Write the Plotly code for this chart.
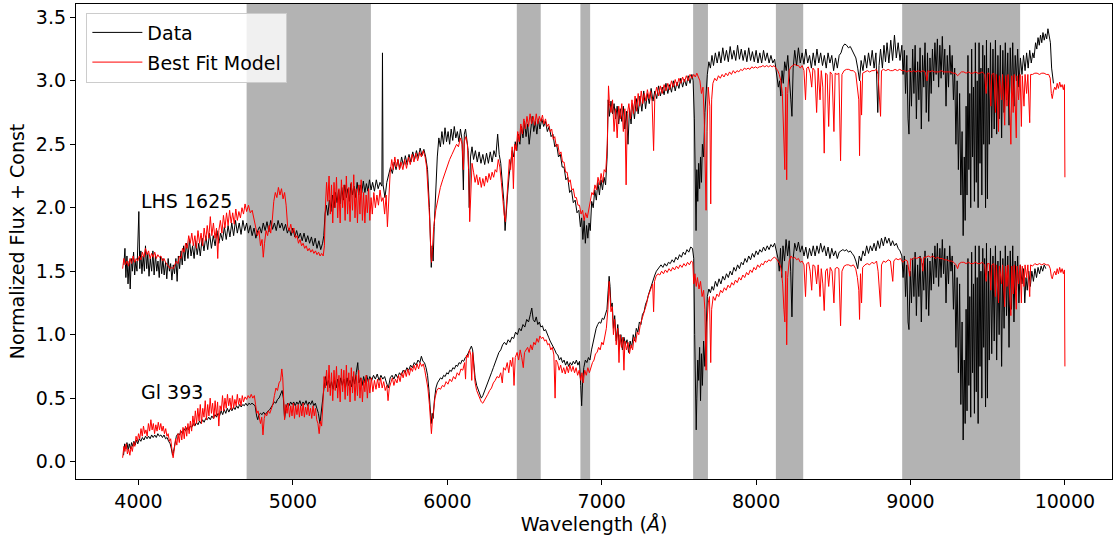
import plotly.graph_objects as go

# ---------------- data ----------------
bands = [(4700, 5505), (6450, 6605), (6862, 6925), (7592, 7688), (8128, 8305), (8946, 9710)]

lhs_data = [(3905,1.55),(3912,1.68),(3918,1.45),(3925,1.62),(3932,1.40),(3940,1.58),(3946,1.36),(3953,1.60),(3960,1.50),(3968,1.65),
(3975,1.47),(3982,1.58),(3990,1.50),(3997,1.72),(4002,1.97),(4008,1.52),(4015,1.66),(4022,1.48),(4030,1.62),(4038,1.50),
(4045,1.70),(4053,1.52),(4060,1.64),(4068,1.46),(4076,1.60),(4085,1.50),(4093,1.66),(4101,1.47),(4110,1.63),(4118,1.50),
(4126,1.58),(4134,1.45),(4142,1.62),(4150,1.48),(4158,1.60),(4166,1.47),(4175,1.57),(4183,1.44),(4192,1.60),(4200,1.50),
(4208,1.56),(4216,1.43),(4225,1.55),(4233,1.48),(4242,1.60),(4250,1.42),(4258,1.62),(4266,1.52),(4275,1.66),(4283,1.55),
(4292,1.70),(4300,1.58),(4310,1.72),(4320,1.60),(4330,1.75),(4340,1.62),(4350,1.70),(4360,1.60),(4370,1.74),(4380,1.63),
(4390,1.72),(4400,1.62),(4412,1.76),(4424,1.66),(4436,1.78),(4448,1.67),(4460,1.80),(4472,1.68),(4484,1.78),(4496,1.70),
(4508,1.82),(4520,1.72),(4532,1.80),(4544,1.74),(4556,1.85),(4568,1.75),(4580,1.86),(4592,1.77),(4604,1.88),(4616,1.78),
(4628,1.90),(4640,1.80),(4652,1.88),(4664,1.79),(4676,1.90),(4688,1.82),(4700,1.88),(4712,1.80),(4724,1.86),(4736,1.78),
(4748,1.84),(4760,1.76),(4772,1.82),(4784,1.85),(4796,1.80),(4808,1.88),(4820,1.82),(4832,1.89),(4844,1.81),(4856,1.90),
(4868,1.83),(4880,1.88),(4892,1.82),(4904,1.90),(4916,1.84),(4928,1.88),(4940,1.82),(4952,1.87),(4964,1.80),(4976,1.84),
(4988,1.78),(5000,1.84),(5012,1.77),(5024,1.82),(5036,1.76),(5048,1.80),(5060,1.74),(5072,1.80),(5084,1.73),(5096,1.78),
(5108,1.72),(5120,1.77),(5132,1.70),(5144,1.76),(5156,1.68),(5168,1.74),(5180,1.67),(5192,1.72),(5200,1.78),(5208,1.95),
(5216,2.02),(5226,1.94),(5236,2.06),(5246,1.97),(5256,2.10),(5266,2.00),(5276,2.12),(5286,2.04),(5296,2.14),(5306,2.03),
(5316,2.16),(5326,2.06),(5336,2.18),(5346,2.08),(5356,2.15),(5366,2.05),(5376,2.19),(5386,2.10),(5396,2.17),(5406,2.08),
(5416,2.20),(5426,2.10),(5436,2.18),(5446,2.12),(5456,2.21),(5466,2.12),(5476,2.19),(5486,2.13),(5496,2.22),(5506,2.14),
(5516,2.20),(5528,2.13),(5540,2.22),(5552,2.15),(5564,2.20),(5576,2.17),(5580,3.22),(5584,2.18),(5596,2.08),(5608,2.20),
(5620,2.26),(5632,2.32),(5644,2.27),(5656,2.36),(5668,2.30),(5680,2.38),(5692,2.31),(5704,2.40),(5716,2.33),(5728,2.41),
(5740,2.34),(5752,2.42),(5764,2.36),(5776,2.44),(5788,2.38),(5800,2.45),(5812,2.39),(5824,2.47),(5836,2.41),(5848,2.46),
(5860,2.40),(5872,2.30),(5884,2.00),(5892,1.60),(5896,1.53),(5902,1.70),(5908,1.58),(5915,1.85),(5925,2.20),(5935,2.40),
(5945,2.55),(5955,2.48),(5965,2.60),(5975,2.50),(5985,2.63),(5995,2.52),(6005,2.60),(6015,2.50),(6025,2.62),(6035,2.53),
(6045,2.64),(6055,2.55),(6065,2.60),(6075,2.52),(6085,2.62),(6095,2.54),(6104,2.14),(6110,2.58),(6118,2.62),(6125,2.55),
(6135,2.45),(6142,2.00),(6150,2.40),(6160,2.48),(6170,2.38),(6182,2.45),(6194,2.36),(6206,2.44),(6218,2.35),(6230,2.42),
(6242,2.34),(6254,2.43),(6266,2.35),(6278,2.44),(6290,2.36),(6302,2.45),(6314,2.40),(6326,2.58),(6336,2.42),(6346,2.35),
(6356,2.22),(6366,2.05),(6374,1.82),(6380,1.90),(6390,2.10),(6400,2.25),(6410,2.35),(6420,2.45),(6430,2.40),(6440,2.52),
(6450,2.45),(6460,2.58),(6470,2.50),(6480,2.64),(6490,2.55),(6500,2.68),(6510,2.56),(6520,2.66),(6530,2.50),(6540,2.62),
(6550,2.72),(6560,2.60),(6570,2.68),(6580,2.58),(6590,2.70),(6600,2.62),(6612,2.70),(6624,2.64),(6636,2.68),(6648,2.60),
(6660,2.64),(6672,2.56),(6684,2.58),(6696,2.48),(6708,2.50),(6720,2.40),(6732,2.42),(6744,2.32),(6756,2.32),(6768,2.22),
(6780,2.24),(6792,2.12),(6804,2.14),(6816,2.04),(6828,2.06),(6840,1.96),(6852,1.98),(6862,1.85),(6870,1.92),(6878,1.75),
(6886,1.90),(6894,1.72),(6902,1.86),(6910,1.76),(6918,1.88),(6926,1.82),(6935,2.05),(6945,2.00),(6955,2.14),(6965,2.06),
(6975,2.20),(6985,2.10),(6995,2.22),(7005,2.14),(7015,2.24),(7025,2.18),(7035,2.40),(7042,2.85),(7050,2.72),(7060,2.84),
(7070,2.74),(7080,2.82),(7090,2.70),(7100,2.80),(7110,2.66),(7120,2.78),(7130,2.68),(7140,2.80),(7150,2.62),(7160,2.76),
(7170,2.50),(7180,2.78),(7190,2.66),(7200,2.82),(7212,2.70),(7224,2.86),(7236,2.74),(7248,2.88),(7260,2.76),(7272,2.92),
(7284,2.78),(7296,2.90),(7308,2.82),(7320,2.94),(7332,2.84),(7344,2.92),(7356,2.86),(7368,2.96),(7380,2.88),(7392,2.95),
(7404,2.89),(7416,2.98),(7428,2.90),(7440,2.97),(7452,2.91),(7464,3.00),(7476,2.92),(7488,2.99),(7500,2.94),(7512,3.02),
(7524,2.95),(7536,3.01),(7548,2.96),(7560,3.04),(7572,2.98),(7584,3.05),(7592,3.00),(7600,2.70),(7606,2.10),(7611,1.82),
(7616,2.30),(7622,2.05),(7628,2.35),(7634,2.15),(7640,2.40),(7646,2.20),(7652,2.50),(7660,2.40),(7668,2.75),(7676,2.95),
(7684,3.05),(7694,3.15),(7704,3.10),(7714,3.20),(7724,3.12),(7736,3.22),(7748,3.14),(7760,3.23),(7772,3.14),(7784,3.26),
(7796,3.16),(7808,3.24),(7820,3.15),(7832,3.27),(7844,3.17),(7856,3.24),(7868,3.16),(7880,3.28),(7892,3.17),(7904,3.25),
(7916,3.16),(7928,3.24),(7940,3.15),(7952,3.26),(7964,3.16),(7976,3.23),(7988,3.15),(8000,3.24),(8012,3.14),(8024,3.22),
(8036,3.14),(8048,3.24),(8060,3.16),(8072,3.22),(8084,3.14),(8096,3.20),(8108,3.14),(8120,3.17),(8132,3.05),(8144,2.95),
(8152,3.00),(8160,2.88),(8168,3.08),(8176,2.98),(8185,3.15),(8195,3.08),(8205,3.20),(8215,3.05),(8225,2.85),(8232,2.72),
(8240,3.10),(8250,3.24),(8262,3.12),(8274,3.26),(8286,3.14),(8298,3.22),(8310,3.13),(8322,3.25),(8334,3.14),(8346,3.20),
(8358,3.10),(8370,3.22),(8382,3.12),(8394,3.25),(8406,3.14),(8418,3.22),(8430,3.12),(8442,3.20),(8454,3.10),(8466,3.22),
(8478,3.14),(8490,3.20),(8502,3.08),(8514,3.18),(8526,3.10),(8538,3.20),(8550,3.22),(8562,3.27),(8574,3.29),(8586,3.28),
(8598,3.26),(8610,3.27),(8622,3.24),(8634,3.22),(8646,3.18),(8658,3.10),(8670,3.00),(8680,3.16),(8692,3.08),(8704,3.20),
(8716,3.10),(8728,3.22),(8740,3.12),(8752,3.24),(8764,3.10),(8776,3.22),(8788,2.75),(8796,3.12),(8806,3.25),(8818,3.10),
(8828,3.28),(8838,3.15),(8848,3.30),(8860,3.14),(8872,3.32),(8884,3.16),(8896,3.36),(8908,3.18),(8920,3.30),(8932,3.16),
(8944,3.28),(8952,3.05),(8960,3.24),(8968,2.90),(8976,3.20),(8984,2.70),(8990,2.58),(8998,3.10),(9006,2.80),(9014,3.25),
(9022,2.90),(9030,3.28),(9038,2.70),(9046,3.15),(9054,2.85),(9062,3.26),(9070,2.62),(9078,3.20),(9086,2.95),(9094,3.30),
(9102,2.75),(9110,3.22),(9118,2.68),(9126,3.18),(9134,2.90),(9142,3.25),(9150,3.00),(9158,3.30),(9166,3.05),(9174,3.33),
(9182,2.95),(9190,3.28),(9198,3.02),(9206,3.35),(9214,3.05),(9222,3.25),(9230,2.80),(9238,3.20),(9246,2.95),(9254,3.28),
(9262,3.05),(9270,3.20),(9278,2.85),(9286,3.10),(9294,2.50),(9302,3.00),(9310,2.30),(9318,2.90),(9326,2.10),(9334,2.60),
(9341,1.78),(9348,2.40),(9354,1.90),(9360,2.80),(9366,2.10),(9372,3.20),(9378,2.30),(9384,2.90),(9390,2.00),(9396,3.25),
(9402,2.40),(9408,2.95),(9414,2.05),(9420,3.30),(9426,2.20),(9432,3.00),(9438,2.00),(9444,3.30),(9450,2.35),(9456,3.10),
(9462,2.10),(9468,3.28),(9474,2.50),(9480,3.20),(9486,2.00),(9492,3.32),(9498,2.07),(9504,3.10),(9510,2.50),(9518,3.30),
(9526,2.55),(9534,3.25),(9542,2.62),(9550,3.32),(9558,2.58),(9566,3.20),(9574,2.70),(9582,3.28),(9590,2.55),(9598,3.24),
(9606,2.75),(9614,3.30),(9622,2.85),(9630,3.22),(9638,2.65),(9646,3.26),(9654,2.90),(9662,3.30),(9670,2.80),(9678,3.20),
(9686,3.00),(9694,3.25),(9702,2.95),(9712,3.18),(9722,3.05),(9732,3.20),(9742,3.08),(9752,3.22),(9762,3.10),(9772,3.24),
(9782,3.14),(9792,3.22),(9800,3.18),(9810,3.30),(9818,3.25),(9826,3.34),(9834,3.28),(9842,3.36),(9850,3.30),(9858,3.38),
(9866,3.32),(9874,3.37),(9882,3.33),(9890,3.41),(9898,3.34),(9906,3.30),(9914,3.10),(9920,3.05),(9926,2.98)]

lhs_model = [(3897,1.52),(3905,1.60),(3915,1.55),(3925,1.58),(3935,1.54),(3945,1.60),(3955,1.56),(3965,1.62),(3975,1.57),(3985,1.60),
(3995,1.58),(4005,1.62),(4015,1.59),(4025,1.65),(4035,1.61),(4045,1.68),(4055,1.63),(4065,1.66),(4075,1.60),(4085,1.64),
(4095,1.61),(4105,1.65),(4115,1.60),(4125,1.63),(4135,1.61),(4145,1.62),(4155,1.58),(4165,1.60),(4175,1.57),(4185,1.55),
(4195,1.53),(4205,1.52),(4215,1.53),(4225,1.52),(4235,1.55),(4245,1.58),(4255,1.56),(4265,1.62),(4275,1.60),(4285,1.68),
(4295,1.65),(4305,1.72),(4315,1.68),(4325,1.78),(4335,1.72),(4345,1.80),(4355,1.70),(4365,1.78),(4375,1.68),(4385,1.82),
(4395,1.72),(4405,1.80),(4415,1.70),(4425,1.84),(4435,1.74),(4445,1.86),(4455,1.76),(4465,1.93),(4475,1.78),(4485,1.88),
(4495,1.76),(4505,1.84),(4513,1.60),(4520,1.82),(4530,1.90),(4540,1.80),(4550,1.94),(4560,1.84),(4570,1.96),(4580,1.86),
(4590,1.98),(4600,1.88),(4610,1.96),(4620,1.87),(4630,1.99),(4640,1.90),(4650,1.97),(4660,1.92),(4670,2.00),(4680,1.95),
(4690,2.03),(4700,1.97),(4712,2.02),(4724,1.96),(4736,1.98),(4748,1.90),(4760,1.85),(4770,1.78),(4780,1.82),(4790,1.70),
(4800,1.75),(4808,1.61),(4816,1.72),(4826,1.82),(4836,1.78),(4846,1.86),(4856,1.80),(4866,1.90),(4876,2.05),(4886,2.12),
(4896,2.08),(4906,2.16),(4916,2.10),(4926,2.15),(4936,2.07),(4946,2.12),(4956,2.02),(4966,1.85),(4976,1.82),(4986,1.87),
(4996,1.80),(5006,1.84),(5016,1.76),(5026,1.78),(5036,1.72),(5046,1.75),(5056,1.70),(5066,1.72),(5076,1.68),(5086,1.70),
(5096,1.66),(5106,1.68),(5116,1.65),(5126,1.67),(5136,1.64),(5146,1.66),(5156,1.63),(5166,1.65),(5176,1.62),(5186,1.64),
(5196,1.62),(5204,1.70),(5210,2.00),(5218,2.20),(5226,2.05),(5234,2.25),(5242,1.95),(5250,2.18),(5258,1.88),(5266,2.20),
(5274,2.00),(5282,2.24),(5290,1.92),(5298,2.15),(5306,1.88),(5314,2.22),(5322,2.00),(5330,2.18),(5338,1.90),(5346,2.25),
(5354,1.95),(5362,2.16),(5370,1.89),(5378,2.20),(5386,1.98),(5394,2.26),(5402,1.92),(5410,2.15),(5418,1.88),(5426,2.18),
(5434,1.95),(5442,2.22),(5450,1.90),(5458,2.12),(5466,1.88),(5474,2.10),(5482,1.96),(5490,2.15),(5498,1.90),(5506,2.08),
(5514,1.95),(5524,2.12),(5534,2.00),(5544,2.10),(5554,2.02),(5564,2.14),(5574,2.05),(5584,2.08),(5594,1.95),(5604,2.10),
(5612,1.85),(5620,2.05),(5630,2.28),(5640,2.38),(5650,2.30),(5660,2.40),(5670,2.32),(5680,2.38),(5690,2.30),(5700,2.36),
(5712,2.30),(5724,2.38),(5736,2.31),(5748,2.40),(5760,2.34),(5772,2.42),(5784,2.36),(5796,2.43),(5808,2.37),(5820,2.44),
(5832,2.40),(5844,2.45),(5856,2.40),(5866,2.32),(5876,2.15),(5886,1.90),(5894,1.62),(5898,1.57),(5904,1.68),(5912,1.85),
(5925,1.98),(5940,2.08),(5955,2.16),(5970,2.22),(5985,2.28),(6000,2.32),(6015,2.38),(6030,2.42),(6045,2.46),(6060,2.50),
(6072,2.48),(6084,2.55),(6096,2.50),(6104,2.30),(6110,2.52),(6120,2.56),(6130,2.50),(6138,2.30),(6145,1.89),(6152,2.20),
(6160,2.35),(6170,2.28),(6180,2.20),(6190,2.26),(6200,2.18),(6210,2.24),(6220,2.16),(6230,2.23),(6240,2.17),(6250,2.25),
(6260,2.20),(6270,2.27),(6280,2.22),(6290,2.28),(6300,2.24),(6310,2.30),(6320,2.28),(6330,2.38),(6340,2.32),(6350,2.20),
(6360,2.05),(6368,1.95),(6376,1.89),(6384,2.05),(6392,2.25),(6402,2.38),(6410,2.30),(6420,2.48),(6428,2.15),(6436,2.50),
(6446,2.45),(6456,2.60),(6466,2.52),(6476,2.66),(6486,2.58),(6496,2.70),(6506,2.62),(6516,2.72),(6526,2.64),(6536,2.74),
(6546,2.66),(6556,2.72),(6566,2.65),(6576,2.74),(6586,2.66),(6596,2.72),(6606,2.68),(6616,2.73),(6626,2.66),(6636,2.70),
(6646,2.64),(6656,2.66),(6666,2.60),(6676,2.62),(6686,2.54),(6696,2.56),(6706,2.48),(6716,2.50),(6726,2.42),(6736,2.44),
(6746,2.36),(6756,2.36),(6766,2.28),(6776,2.28),(6786,2.20),(6796,2.22),(6806,2.14),(6816,2.15),(6826,2.08),(6836,2.08),
(6846,2.02),(6856,2.02),(6866,1.95),(6876,1.98),(6886,1.90),(6896,1.96),(6906,1.92),(6916,2.00),(6926,2.05),(6936,2.12),
(6946,2.10),(6956,2.18),(6966,2.14),(6976,2.24),(6986,2.18),(6996,2.27),(7006,2.20),(7016,2.30),(7026,2.28),(7036,2.50),
(7044,2.96),(7050,2.82),(7060,2.75),(7070,2.85),(7080,2.60),(7090,2.78),(7100,2.55),(7110,2.80),(7120,2.70),(7130,2.82),
(7140,2.60),(7150,2.78),(7158,2.18),(7166,2.74),(7176,2.82),(7186,2.70),(7196,2.85),(7206,2.74),(7216,2.88),(7226,2.76),
(7236,2.90),(7246,2.80),(7256,2.92),(7266,2.82),(7276,2.90),(7286,2.84),(7296,2.93),(7306,2.86),(7316,2.92),(7326,2.84),
(7336,2.45),(7344,2.88),(7356,2.95),(7368,2.88),(7380,2.96),(7392,2.90),(7404,2.97),(7416,2.92),(7428,2.98),(7440,2.93),
(7452,3.00),(7464,2.95),(7476,3.01),(7488,2.96),(7500,3.02),(7512,2.98),(7524,3.03),(7536,2.99),(7548,3.04),(7560,3.00),
(7572,3.05),(7584,3.02),(7596,3.05),(7606,3.03),(7616,3.06),(7626,3.03),(7636,3.00),(7646,2.90),(7656,2.95),(7664,2.70),
(7670,2.40),(7676,1.98),(7682,2.60),(7690,2.95),(7700,2.80),(7706,2.03),(7712,2.85),(7720,2.98),(7732,3.02),(7744,3.00),
(7756,3.04),(7768,3.02),(7780,3.05),(7792,3.03),(7804,3.06),(7816,3.04),(7828,3.07),(7840,3.05),(7852,3.08),(7864,3.06),
(7876,3.08),(7888,3.07),(7900,3.09),(7912,3.08),(7924,3.10),(7936,3.09),(7948,3.10),(7960,3.09),(7972,3.11),(7984,3.10),
(7996,3.11),(8008,3.10),(8020,3.11),(8032,3.11),(8044,3.12),(8056,3.11),(8068,3.12),(8080,3.11),(8092,3.12),(8104,3.11),
(8116,3.12),(8128,3.10),(8140,3.08),(8150,3.05),(8160,3.00),(8170,2.90),(8180,2.40),(8186,2.30),(8192,2.95),(8198,2.22),
(8204,2.90),(8214,3.08),(8226,3.11),(8238,3.12),(8250,3.13),(8262,3.12),(8274,3.12),(8286,3.10),(8298,3.12),(8310,3.08),
(8320,2.85),(8328,3.10),(8338,3.11),(8350,3.06),(8360,2.95),(8368,3.10),(8380,3.08),(8392,2.75),(8402,3.10),(8414,2.85),
(8422,3.08),(8432,2.95),(8441,2.43),(8450,3.06),(8460,3.05),(8470,2.64),(8480,3.07),(8492,3.05),(8504,2.60),(8512,3.06),
(8524,3.05),(8536,3.06),(8547,2.37),(8556,3.05),(8570,3.08),(8585,3.09),(8600,3.09),(8615,3.08),(8630,3.08),(8645,3.06),
(8656,2.95),(8665,2.85),(8670,2.41),(8676,3.00),(8683,2.73),(8690,3.06),(8705,3.07),(8720,3.08),(8735,3.07),(8750,3.08),
(8765,3.08),(8780,3.09),(8790,3.05),(8800,2.80),(8806,2.72),(8812,3.08),(8825,3.09),(8840,3.08),(8855,3.09),(8870,3.08),
(8885,3.08),(8900,3.09),(8915,3.08),(8930,3.09),(8945,3.08),(8960,3.08),(8975,3.07),(8990,3.08),(9005,3.07),(9020,3.08),
(9035,3.07),(9050,3.08),(9065,3.07),(9080,3.08),(9095,3.07),(9107,3.00),(9113,3.08),(9125,3.07),(9140,3.08),(9155,3.07),
(9170,3.07),(9185,3.07),(9200,3.08),(9215,3.07),(9230,3.07),(9245,3.07),(9260,3.07),(9275,3.06),(9290,3.06),(9305,3.04),
(9315,3.05),(9330,3.07),(9345,3.07),(9360,3.06),(9375,3.07),(9390,3.06),(9405,3.06),(9420,3.07),(9435,3.06),(9450,3.06),
(9465,3.07),(9480,3.05),(9490,2.90),(9498,3.06),(9510,3.06),(9520,2.80),(9526,3.05),(9540,3.06),(9550,2.75),(9556,3.05),
(9570,2.60),(9576,3.04),(9590,2.85),(9596,3.05),(9610,2.65),(9616,3.04),(9625,2.80),(9632,3.05),(9645,2.70),(9650,2.50),
(9656,3.04),(9665,2.75),(9672,3.05),(9685,2.55),(9690,3.04),(9700,2.85),(9710,3.05),(9718,2.64),(9724,3.04),(9735,2.80),
(9742,3.05),(9752,2.90),(9760,3.05),(9772,2.67),(9778,3.05),(9790,3.05),(9805,3.06),(9820,3.06),(9835,3.05),(9850,3.06),
(9865,3.06),(9880,3.05),(9895,3.05),(9905,3.02),(9912,2.90),(9918,2.86),(9926,2.92),(9934,2.95),(9942,2.93),(9950,2.98),
(9958,2.94),(9966,2.99),(9974,2.95),(9982,2.97),(9990,2.93),(9997,2.97),(10000,2.24)]

gl_data = [(3903,0.05),(3910,0.14),(3918,0.10),(3925,0.15),(3933,0.09),(3940,0.14),(3948,0.10),(3955,0.15),(3963,0.12),(3970,0.16),
(3978,0.13),(3986,0.17),(3995,0.14),(4005,0.18),(4015,0.16),(4025,0.19),(4035,0.17),(4045,0.20),(4055,0.18),(4065,0.20),
(4075,0.18),(4085,0.21),(4095,0.19),(4105,0.21),(4115,0.19),(4125,0.22),(4135,0.20),(4145,0.21),(4155,0.19),(4165,0.21),
(4175,0.18),(4185,0.19),(4195,0.16),(4205,0.14),(4213,0.10),(4220,0.05),(4227,0.08),(4235,0.15),(4245,0.20),(4255,0.22),
(4265,0.21),(4275,0.24),(4285,0.22),(4295,0.26),(4305,0.24),(4315,0.27),(4325,0.25),(4335,0.28),(4345,0.27),(4355,0.30),
(4365,0.28),(4375,0.31),(4385,0.29),(4395,0.32),(4405,0.30),(4415,0.33),(4425,0.31),(4435,0.34),(4445,0.33),(4455,0.35),
(4465,0.33),(4475,0.36),(4485,0.34),(4495,0.37),(4505,0.35),(4515,0.38),(4525,0.36),(4535,0.40),(4545,0.37),(4555,0.41),
(4565,0.38),(4575,0.42),(4585,0.39),(4595,0.42),(4605,0.40),(4615,0.43),(4625,0.41),(4635,0.44),(4645,0.42),(4655,0.45),
(4665,0.43),(4675,0.45),(4685,0.44),(4695,0.46),(4705,0.44),(4715,0.46),(4725,0.45),(4735,0.46),(4745,0.45),(4755,0.44),
(4765,0.36),(4772,0.33),(4780,0.37),(4790,0.38),(4800,0.37),(4810,0.39),(4820,0.37),(4830,0.39),(4840,0.40),(4850,0.41),
(4860,0.43),(4870,0.45),(4880,0.47),(4890,0.46),(4900,0.49),(4910,0.50),(4920,0.53),(4930,0.56),(4938,0.50),(4946,0.34),
(4955,0.42),(4965,0.46),(4975,0.44),(4985,0.47),(4995,0.45),(5005,0.47),(5015,0.44),(5025,0.47),(5035,0.45),(5045,0.48),
(5055,0.44),(5065,0.47),(5075,0.45),(5085,0.48),(5095,0.44),(5105,0.47),(5115,0.45),(5125,0.48),(5135,0.44),(5145,0.46),
(5155,0.42),(5165,0.38),(5175,0.30),(5185,0.42),(5195,0.55),(5205,0.62),(5212,0.67),(5220,0.60),(5230,0.64),(5240,0.58),
(5250,0.63),(5260,0.57),(5270,0.64),(5280,0.58),(5290,0.65),(5300,0.59),(5310,0.66),(5320,0.60),(5330,0.65),(5340,0.58),
(5350,0.66),(5360,0.60),(5370,0.64),(5380,0.59),(5390,0.67),(5400,0.61),(5410,0.70),(5420,0.78),(5428,0.62),(5438,0.66),
(5448,0.60),(5458,0.67),(5468,0.62),(5478,0.68),(5488,0.63),(5498,0.67),(5510,0.64),(5522,0.68),(5534,0.65),(5546,0.69),
(5558,0.64),(5570,0.68),(5582,0.65),(5594,0.67),(5606,0.62),(5618,0.58),(5630,0.66),(5642,0.68),(5654,0.65),(5666,0.69),
(5678,0.66),(5690,0.70),(5702,0.68),(5714,0.72),(5726,0.70),(5738,0.74),(5750,0.72),(5762,0.76),(5774,0.74),(5786,0.78),
(5798,0.76),(5810,0.80),(5822,0.78),(5832,0.83),(5842,0.79),(5852,0.78),(5862,0.74),(5872,0.68),(5882,0.55),(5890,0.40),
(5896,0.30),(5902,0.38),(5908,0.34),(5916,0.48),(5926,0.58),(5936,0.62),(5946,0.64),(5956,0.66),(5966,0.65),(5976,0.68),
(5986,0.67),(5996,0.70),(6006,0.69),(6016,0.72),(6026,0.71),(6036,0.74),(6046,0.73),(6056,0.76),(6066,0.75),(6076,0.78),
(6086,0.77),(6096,0.80),(6106,0.79),(6116,0.82),(6126,0.83),(6136,0.86),(6146,0.88),(6156,0.91),(6164,0.88),(6172,0.76),
(6180,0.66),(6190,0.60),(6200,0.57),(6210,0.53),(6220,0.50),(6230,0.52),(6240,0.55),(6250,0.58),(6262,0.62),(6274,0.66),
(6286,0.70),(6298,0.74),(6310,0.78),(6322,0.82),(6334,0.86),(6346,0.88),(6358,0.92),(6370,0.94),(6382,0.92),(6394,0.96),
(6406,0.94),(6418,0.98),(6430,0.97),(6442,1.02),(6454,1.00),(6466,1.05),(6478,1.03),(6490,1.08),(6502,1.06),(6514,1.12),
(6526,1.10),(6538,1.16),(6547,1.21),(6556,1.12),(6566,1.10),(6576,1.14),(6586,1.08),(6596,1.10),(6606,1.06),(6616,1.07),
(6626,1.03),(6636,1.04),(6646,1.00),(6656,0.98),(6666,0.95),(6676,0.93),(6686,0.90),(6696,0.88),(6706,0.85),(6716,0.84),
(6726,0.80),(6736,0.82),(6746,0.78),(6756,0.80),(6766,0.76),(6776,0.79),(6786,0.75),(6796,0.78),(6806,0.76),(6816,0.79),
(6826,0.77),(6836,0.80),(6846,0.76),(6856,0.79),(6864,0.60),(6870,0.44),(6876,0.62),(6884,0.74),(6894,0.80),(6904,0.78),
(6914,0.82),(6924,0.80),(6934,0.88),(6944,0.94),(6954,1.00),(6964,1.05),(6974,1.08),(6984,1.10),(6994,1.09),(7004,1.13),
(7014,1.12),(7024,1.16),(7034,1.20),(7042,1.35),(7048,1.46),(7054,1.38),(7060,1.22),(7068,1.25),(7076,1.05),(7084,1.15),
(7094,0.95),(7104,1.08),(7114,0.90),(7124,1.00),(7134,0.88),(7144,0.98),(7154,0.92),(7164,0.96),(7174,0.86),(7184,0.95),
(7194,0.90),(7204,1.00),(7214,0.95),(7224,1.05),(7234,1.02),(7244,1.10),(7254,1.08),(7264,1.16),(7274,1.18),(7284,1.24),
(7294,1.27),(7304,1.32),(7314,1.36),(7324,1.40),(7334,1.44),(7344,1.47),(7354,1.50),(7364,1.52),(7374,1.54),(7384,1.55),
(7396,1.53),(7408,1.56),(7420,1.54),(7432,1.57),(7444,1.56),(7456,1.59),(7468,1.57),(7480,1.61),(7492,1.59),(7504,1.63),
(7516,1.61),(7528,1.65),(7540,1.63),(7552,1.67),(7564,1.65),(7576,1.69),(7588,1.68),(7596,1.60),(7602,1.00),(7608,0.40),
(7612,0.25),(7616,0.50),(7622,0.80),(7628,0.64),(7634,0.90),(7640,0.48),(7646,0.85),(7652,0.60),(7660,0.95),(7668,0.75),
(7676,1.10),(7684,1.30),(7694,1.36),(7704,1.33),(7714,1.38),(7724,1.35),(7736,1.42),(7748,1.38),(7760,1.44),(7772,1.40),
(7784,1.46),(7796,1.43),(7808,1.48),(7820,1.45),(7832,1.50),(7844,1.47),(7856,1.53),(7868,1.50),(7880,1.55),(7892,1.52),
(7904,1.57),(7916,1.55),(7928,1.60),(7940,1.57),(7952,1.62),(7964,1.59),(7976,1.64),(7988,1.61),(8000,1.66),(8012,1.63),
(8024,1.67),(8036,1.65),(8048,1.69),(8060,1.66),(8072,1.70),(8084,1.67),(8096,1.71),(8108,1.69),(8120,1.72),(8132,1.66),
(8142,1.60),(8150,1.50),(8158,1.68),(8166,1.45),(8174,1.70),(8184,1.58),(8194,1.75),(8204,1.62),(8214,1.74),(8224,1.50),
(8232,1.14),(8240,1.60),(8250,1.72),(8262,1.66),(8274,1.73),(8286,1.65),(8298,1.70),(8310,1.62),(8322,1.69),(8334,1.60),
(8346,1.68),(8358,1.62),(8370,1.70),(8382,1.62),(8394,1.70),(8406,1.64),(8418,1.72),(8430,1.65),(8442,1.70),(8454,1.62),
(8466,1.69),(8478,1.60),(8490,1.68),(8502,1.62),(8514,1.66),(8526,1.60),(8538,1.65),(8550,1.66),(8562,1.67),(8574,1.66),
(8586,1.67),(8598,1.65),(8610,1.66),(8622,1.64),(8634,1.62),(8646,1.58),(8658,1.52),(8668,1.62),(8680,1.58),(8692,1.66),
(8704,1.62),(8716,1.70),(8728,1.64),(8740,1.70),(8752,1.66),(8764,1.72),(8776,1.66),(8788,1.74),(8800,1.68),(8812,1.76),
(8824,1.70),(8836,1.77),(8848,1.72),(8860,1.76),(8872,1.70),(8884,1.74),(8896,1.70),(8908,1.72),(8920,1.68),(8932,1.66),
(8944,1.62),(8952,1.45),(8960,1.62),(8968,1.30),(8976,1.55),(8984,1.10),(8990,1.04),(8998,1.50),(9006,1.25),(9014,1.60),
(9022,1.30),(9030,1.65),(9038,1.15),(9046,1.55),(9054,1.30),(9062,1.62),(9070,1.10),(9078,1.56),(9086,1.35),(9094,1.66),
(9102,1.20),(9110,1.60),(9118,1.15),(9126,1.58),(9134,1.35),(9142,1.64),(9150,1.40),(9158,1.70),(9166,1.45),(9174,1.72),
(9182,1.38),(9190,1.68),(9198,1.45),(9206,1.75),(9214,1.48),(9222,1.68),(9230,1.25),(9238,1.62),(9246,1.40),(9254,1.70),
(9262,1.50),(9270,1.62),(9278,1.20),(9286,1.55),(9294,0.90),(9302,1.45),(9310,0.70),(9318,1.40),(9326,0.45),(9334,1.10),
(9341,0.17),(9348,0.80),(9354,0.30),(9360,1.20),(9366,0.40),(9372,1.60),(9378,0.60),(9384,1.30),(9390,0.35),(9396,1.65),
(9402,0.70),(9408,1.40),(9414,0.38),(9420,1.70),(9426,0.55),(9432,1.45),(9438,0.30),(9444,1.70),(9450,0.75),(9456,1.50),
(9462,0.50),(9468,1.68),(9474,0.90),(9480,1.60),(9486,0.43),(9492,1.72),(9498,0.50),(9504,1.50),(9510,0.80),(9518,1.68),
(9526,0.85),(9534,1.62),(9542,0.95),(9550,1.70),(9558,0.80),(9566,1.58),(9574,1.00),(9582,1.66),(9590,0.75),(9598,1.60),
(9606,1.05),(9614,1.70),(9622,1.15),(9630,1.62),(9638,0.90),(9646,1.66),(9654,1.20),(9662,1.70),(9670,1.10),(9678,1.58),
(9686,1.35),(9694,1.62),(9702,1.25),(9712,1.55),(9722,1.40),(9732,1.52),(9740,1.25),(9748,1.45),(9756,1.35),(9766,1.50),
(9776,1.38),(9786,1.50),(9796,1.42),(9806,1.52),(9816,1.45),(9826,1.53),(9836,1.48),(9846,1.54),(9856,1.50),(9866,1.55),
(9876,1.52)]

gl_model = [(3897,0.03),(3905,0.12),(3912,0.08),(3920,0.14),(3928,0.06),(3936,0.10),(3944,0.05),(3952,0.12),(3960,0.08),(3968,0.15),
(3976,0.12),(3984,0.20),(3992,0.16),(4000,0.22),(4008,0.18),(4016,0.26),(4024,0.20),(4032,0.28),(4040,0.22),(4048,0.25),
(4056,0.20),(4064,0.30),(4072,0.24),(4080,0.33),(4088,0.25),(4096,0.30),(4104,0.22),(4112,0.29),(4120,0.24),(4128,0.31),
(4136,0.25),(4144,0.30),(4152,0.24),(4160,0.28),(4168,0.22),(4176,0.26),(4184,0.20),(4192,0.22),(4200,0.16),(4208,0.18),
(4216,0.10),(4224,0.03),(4232,0.10),(4240,0.18),(4248,0.13),(4256,0.22),(4264,0.15),(4272,0.25),(4280,0.17),(4288,0.27),
(4296,0.18),(4304,0.28),(4312,0.20),(4320,0.30),(4328,0.22),(4336,0.32),(4344,0.24),(4352,0.36),(4360,0.28),(4368,0.40),
(4376,0.30),(4384,0.42),(4392,0.32),(4400,0.45),(4408,0.30),(4416,0.42),(4424,0.35),(4432,0.48),(4440,0.33),(4448,0.45),
(4456,0.36),(4464,0.50),(4472,0.38),(4480,0.46),(4488,0.34),(4496,0.48),(4504,0.36),(4512,0.47),(4520,0.28),(4528,0.44),
(4536,0.40),(4544,0.52),(4552,0.40),(4560,0.50),(4568,0.42),(4576,0.53),(4584,0.44),(4592,0.50),(4600,0.41),(4608,0.52),
(4616,0.42),(4624,0.49),(4632,0.44),(4640,0.53),(4648,0.45),(4656,0.50),(4664,0.44),(4672,0.52),(4680,0.47),(4690,0.51),
(4700,0.49),(4710,0.52),(4720,0.50),(4730,0.53),(4740,0.50),(4750,0.52),(4758,0.45),(4766,0.38),(4774,0.40),(4782,0.36),
(4790,0.30),(4798,0.35),(4806,0.21),(4814,0.34),(4822,0.38),(4830,0.36),(4840,0.40),(4850,0.38),(4860,0.42),(4870,0.45),
(4880,0.52),(4890,0.58),(4900,0.56),(4910,0.62),(4920,0.64),(4928,0.73),(4934,0.66),(4940,0.50),(4946,0.33),(4954,0.45),
(4962,0.38),(4970,0.46),(4978,0.35),(4986,0.44),(4994,0.36),(5002,0.46),(5010,0.34),(5018,0.44),(5026,0.37),(5034,0.45),
(5042,0.35),(5050,0.44),(5058,0.36),(5066,0.46),(5074,0.35),(5082,0.43),(5090,0.37),(5098,0.45),(5106,0.36),(5114,0.42),
(5122,0.34),(5130,0.44),(5138,0.36),(5146,0.42),(5154,0.33),(5162,0.30),(5170,0.22),(5178,0.32),(5186,0.28),(5194,0.45),
(5202,0.67),(5210,0.58),(5218,0.72),(5226,0.55),(5234,0.76),(5242,0.52),(5250,0.70),(5258,0.48),(5266,0.72),(5274,0.56),
(5282,0.75),(5290,0.50),(5298,0.68),(5306,0.47),(5314,0.73),(5322,0.55),(5330,0.72),(5338,0.49),(5346,0.76),(5354,0.52),
(5362,0.70),(5370,0.47),(5378,0.74),(5386,0.54),(5394,0.71),(5402,0.48),(5410,0.68),(5418,0.52),(5426,0.72),(5434,0.50),
(5442,0.66),(5450,0.47),(5458,0.64),(5466,0.55),(5474,0.68),(5482,0.50),(5490,0.65),(5498,0.54),(5508,0.66),(5518,0.55),
(5528,0.64),(5538,0.57),(5548,0.65),(5558,0.58),(5568,0.66),(5578,0.58),(5588,0.63),(5598,0.56),(5608,0.60),(5616,0.48),
(5624,0.58),(5634,0.62),(5644,0.66),(5654,0.60),(5664,0.65),(5674,0.62),(5684,0.68),(5694,0.63),(5704,0.70),(5714,0.66),
(5724,0.72),(5734,0.67),(5744,0.73),(5754,0.68),(5764,0.74),(5774,0.71),(5784,0.76),(5794,0.72),(5804,0.77),(5814,0.73),
(5824,0.78),(5834,0.75),(5844,0.77),(5854,0.72),(5864,0.66),(5874,0.58),(5884,0.45),(5892,0.30),(5897,0.22),(5903,0.32),
(5910,0.42),(5920,0.50),(5932,0.56),(5944,0.58),(5956,0.57),(5968,0.60),(5980,0.59),(5992,0.63),(6004,0.61),(6016,0.65),
(6028,0.63),(6040,0.67),(6052,0.65),(6064,0.70),(6076,0.68),(6088,0.73),(6100,0.72),(6112,0.78),(6118,0.65),(6124,0.84),
(6134,0.82),(6144,0.88),(6152,0.84),(6158,0.64),(6164,0.86),(6172,0.74),(6180,0.62),(6190,0.56),(6200,0.53),(6210,0.50),
(6220,0.47),(6230,0.46),(6240,0.48),(6250,0.51),(6262,0.53),(6274,0.56),(6286,0.58),(6298,0.62),(6310,0.64),(6322,0.67),
(6334,0.66),(6346,0.70),(6356,0.62),(6364,0.74),(6376,0.72),(6388,0.78),(6398,0.70),(6408,0.80),(6416,0.75),(6424,0.82),
(6432,0.60),(6440,0.82),(6452,0.86),(6462,0.80),(6472,0.88),(6482,0.82),(6492,0.74),(6500,0.86),(6510,0.88),(6520,0.90),
(6530,0.86),(6540,0.92),(6550,0.88),(6560,0.94),(6570,0.92),(6580,0.97),(6590,0.94),(6600,0.99),(6610,0.97),(6620,0.98),
(6630,0.95),(6640,0.96),(6650,0.92),(6660,0.93),(6670,0.88),(6680,0.90),(6690,0.84),(6698,0.50),(6704,0.80),(6714,0.78),
(6724,0.72),(6734,0.76),(6744,0.70),(6754,0.74),(6764,0.69),(6774,0.75),(6784,0.70),(6794,0.76),(6804,0.71),(6814,0.75),
(6824,0.70),(6834,0.74),(6844,0.68),(6854,0.72),(6864,0.64),(6872,0.70),(6880,0.62),(6890,0.72),(6900,0.68),(6910,0.74),
(6920,0.70),(6930,0.75),(6940,0.78),(6950,0.80),(6960,0.85),(6970,0.86),(6980,0.90),(6990,0.88),(7000,0.94),(7010,0.92),
(7020,0.98),(7030,1.05),(7040,1.20),(7048,1.42),(7054,1.30),(7060,1.18),(7068,1.22),(7076,1.00),(7084,1.12),(7094,0.92),
(7104,1.05),(7112,0.78),(7118,1.00),(7128,0.90),(7136,0.98),(7144,0.72),(7150,0.95),(7160,0.88),(7170,0.94),(7180,0.85),
(7190,0.92),(7200,0.88),(7210,0.98),(7220,0.94),(7230,1.02),(7240,1.00),(7250,1.08),(7260,1.12),(7270,1.15),(7280,1.20),
(7290,1.24),(7300,1.30),(7310,1.34),(7320,1.38),(7330,1.40),(7336,1.18),(7342,1.42),(7352,1.46),(7364,1.48),(7376,1.47),
(7388,1.50),(7400,1.48),(7412,1.51),(7424,1.49),(7436,1.52),(7448,1.50),(7460,1.53),(7472,1.51),(7484,1.54),(7496,1.52),
(7508,1.55),(7520,1.53),(7532,1.56),(7544,1.54),(7556,1.57),(7568,1.55),(7580,1.58),(7590,1.57),(7596,1.40),(7604,1.48),
(7612,1.38),(7620,1.45),(7630,1.36),(7640,1.42),(7650,1.30),(7660,1.35),(7668,1.20),(7676,0.72),(7682,1.10),(7690,1.25),
(7698,1.30),(7706,0.78),(7712,1.20),(7722,1.30),(7734,1.27),(7746,1.32),(7758,1.30),(7770,1.35),(7782,1.33),(7794,1.37),
(7806,1.35),(7818,1.39),(7830,1.37),(7842,1.41),(7854,1.39),(7866,1.43),(7878,1.41),(7890,1.45),(7902,1.43),(7914,1.47),
(7926,1.45),(7938,1.49),(7950,1.47),(7962,1.51),(7974,1.49),(7986,1.53),(7998,1.51),(8010,1.55),(8022,1.53),(8034,1.56),
(8046,1.55),(8058,1.58),(8070,1.57),(8082,1.59),(8094,1.58),(8106,1.60),(8118,1.61),(8130,1.60),(8142,1.58),(8152,1.56),
(8162,1.52),(8172,1.40),(8180,1.20),(8186,1.10),(8192,1.50),(8198,0.92),(8204,1.45),(8214,1.58),(8226,1.62),(8238,1.60),
(8250,1.61),(8262,1.59),(8274,1.60),(8286,1.57),(8298,1.58),(8310,1.55),(8320,1.30),(8328,1.56),(8340,1.57),(8350,1.50),
(8360,1.35),(8368,1.55),(8380,1.54),(8392,1.40),(8402,1.55),(8414,1.30),(8422,1.52),(8432,1.40),(8441,1.19),(8450,1.50),
(8460,1.52),(8470,1.38),(8480,1.53),(8492,1.50),(8504,1.25),(8512,1.52),(8524,1.53),(8536,1.52),(8547,1.07),(8556,1.50),
(8570,1.54),(8585,1.55),(8600,1.55),(8615,1.54),(8630,1.55),(8645,1.52),(8656,1.45),(8665,1.35),(8670,1.12),(8676,1.48),
(8683,1.25),(8690,1.53),(8705,1.55),(8720,1.56),(8735,1.55),(8750,1.57),(8765,1.56),(8780,1.58),(8790,1.50),(8800,1.30),
(8806,1.22),(8812,1.55),(8825,1.58),(8840,1.57),(8855,1.59),(8870,1.58),(8885,1.42),(8892,1.58),(8905,1.60),(8920,1.59),
(8935,1.60),(8950,1.57),(8965,1.59),(8980,1.58),(8995,1.46),(9002,1.60),(9010,1.59),(9025,1.61),(9040,1.60),(9055,1.61),
(9070,1.60),(9080,1.50),(9086,1.61),(9100,1.61),(9115,1.62),(9130,1.61),(9145,1.62),(9160,1.60),(9175,1.61),(9190,1.60),
(9205,1.60),(9220,1.59),(9235,1.59),(9250,1.58),(9265,1.58),(9280,1.57),(9295,1.55),(9305,1.52),(9315,1.56),(9330,1.57),
(9345,1.57),(9360,1.56),(9375,1.57),(9390,1.56),(9405,1.56),(9420,1.57),(9435,1.56),(9450,1.56),(9465,1.57),(9480,1.55),
(9490,1.42),(9498,1.56),(9510,1.56),(9520,1.35),(9526,1.55),(9540,1.56),(9550,1.30),(9556,1.55),(9570,1.25),(9576,1.54),
(9590,1.40),(9596,1.55),(9610,1.22),(9616,1.54),(9625,1.38),(9632,1.55),(9645,1.30),(9650,1.15),(9656,1.54),(9665,1.32),
(9672,1.55),(9685,1.20),(9690,1.54),(9700,1.40),(9710,1.55),(9718,1.25),(9724,1.54),(9735,1.38),(9742,1.55),(9752,1.45),
(9760,1.55),(9772,1.30),(9778,1.55),(9790,1.54),(9805,1.56),(9820,1.55),(9835,1.56),(9850,1.55),(9865,1.56),(9880,1.55),
(9895,1.55),(9905,1.52),(9912,1.46),(9918,1.44),(9926,1.48),(9934,1.50),(9942,1.47),(9950,1.52),(9958,1.48),(9966,1.53),
(9974,1.49),(9982,1.52),(9990,1.48),(9997,1.51),(10000,0.75)]

star_labels = [("LHS 1625", 4000, 2.05), ("Gl 393", 4000, 0.55)]
x_ticks = [4000, 5000, 6000, 7000, 8000, 9000, 10000]
y_ticks = [0.0, 0.5, 1.0, 1.5, 2.0, 2.5, 3.0, 3.5]

FONT = "DejaVu Sans"
FS = 19

fig = go.Figure()

def add(series, color, name, show, group):
    wl, fx = zip(*series)
    fig.add_trace(go.Scatter(x=list(wl), y=list(fx), mode="lines", name=name,
                             line=dict(color=color, width=1), showlegend=show,
                             legendgroup=group))

add(lhs_data, "black", "Data", True, "data")
add(lhs_model, "red", "Best Fit Model", True, "model")
add(gl_data, "black", "Data", False, "data")
add(gl_model, "red", "Best Fit Model", False, "model")

for x0, x1 in bands:
    fig.add_shape(type="rect", xref="x", yref="paper", x0=x0, x1=x1, y0=0, y1=1,
                  fillcolor="#b3b3b3", line=dict(width=0), layer="below")

for txt, x, y in star_labels:
    fig.add_annotation(x=x, y=y, text=txt, showarrow=False, xanchor="left", yanchor="middle",
                       font=dict(family=FONT, size=FS, color="black"))

fig.update_layout(
    width=1114, height=541,
    margin=dict(l=76, r=2, t=4, b=62),
    paper_bgcolor="white", plot_bgcolor="white",
    font=dict(family=FONT, size=FS, color="black"),
    legend=dict(x=0.01, y=0.982, xanchor="left", yanchor="top",
                bgcolor="rgba(255,255,255,0.8)", bordercolor="#cccccc", borderwidth=1,
                font=dict(family=FONT, size=FS), itemwidth=50,
                traceorder="grouped", tracegroupgap=2),
    xaxis=dict(range=[3595, 10305], tickvals=x_ticks, ticktext=[str(v) for v in x_ticks],
               showgrid=False, zeroline=False, showline=True, linecolor="black", linewidth=1.3,
               mirror=True, ticks="outside", ticklen=5, tickwidth=1.3, tickcolor="black",
               title=dict(text="Wavelength (<i>Å</i>)", font=dict(family=FONT, size=FS), standoff=6)),
    yaxis=dict(range=[-0.137, 3.605], tickvals=y_ticks, ticktext=["%.1f" % v for v in y_ticks],
               showgrid=False, zeroline=False, showline=True, linecolor="black", linewidth=1.3,
               mirror=True, ticks="outside", ticklen=5, tickwidth=1.3, tickcolor="black",
               title=dict(text="Normalized Flux + Const", font=dict(family=FONT, size=FS), standoff=6)),
)

fig.write_html("out.html")
